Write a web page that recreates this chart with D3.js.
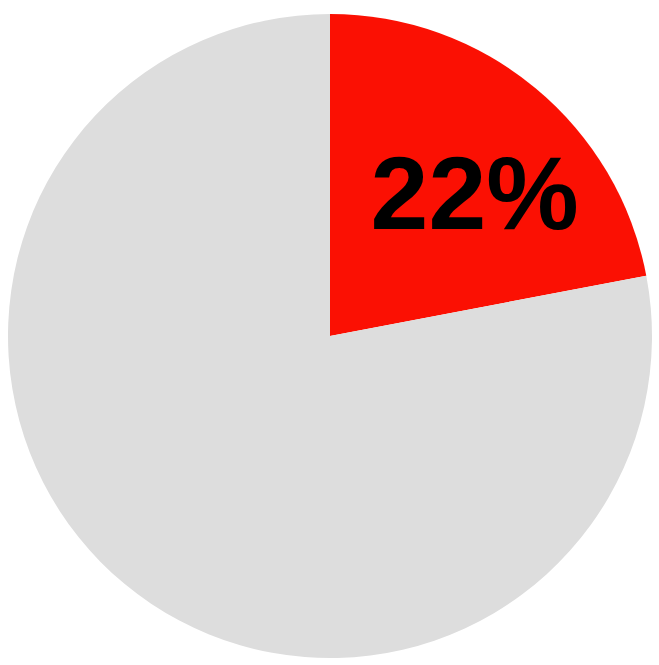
<!DOCTYPE html>
<html lang="en">
<head>
    <meta charset="UTF-8">
    <title>Pie</title>
    <style>
        body { margin: 0; background: #fff; }
    </style>
</head>
<body>
<div id="chart"></div>
<script src="https://d3js.org/d3.v7.min.js"></script>
<script>
    // Slice data
    var categories = ["share", "rest"];
    var values = [22, 78];
    var colors = ["#FB1003", "#DDDDDD"];
    var labels = ["22%", ""];

    var vp = {width: 659, height: 665};
    var center = {x: 330, y: 336};
    var radius = 322;

    var svg = d3.select("#chart").append("svg")
        .attr("width", vp.width)
        .attr("height", vp.height);

    var g = svg.append("g")
        .attr("transform", "translate(" + center.x + "," + center.y + ")");

    var pie = d3.pie().sort(null).value(function (d) { return d; });
    var arcs = pie(values);

    var arc = d3.arc().innerRadius(0).outerRadius(radius);

    g.selectAll("path")
        .data(arcs)
        .enter().append("path")
        .attr("d", arc)
        .attr("fill", function (d, i) { return colors[i]; });

    // Label placed inside the red slice
    var labelArc = d3.arc().innerRadius(205).outerRadius(205);
    g.selectAll("text")
        .data(arcs.filter(function (d, i) { return labels[i]; }))
        .enter().append("text")
        .attr("x", function (d) { return labelArc.centroid(d)[0] + 14; })
        .attr("y", function (d) { return labelArc.centroid(d)[1] + 51; })
        .attr("text-anchor", "middle")
        .attr("font-family", "Liberation Sans, Arial, sans-serif")
        .attr("font-weight", "bold")
        .attr("font-size", 104)
        .attr("fill", "#000")
        .text(function (d) { return labels[d.index]; });
</script>
</body>
</html>
